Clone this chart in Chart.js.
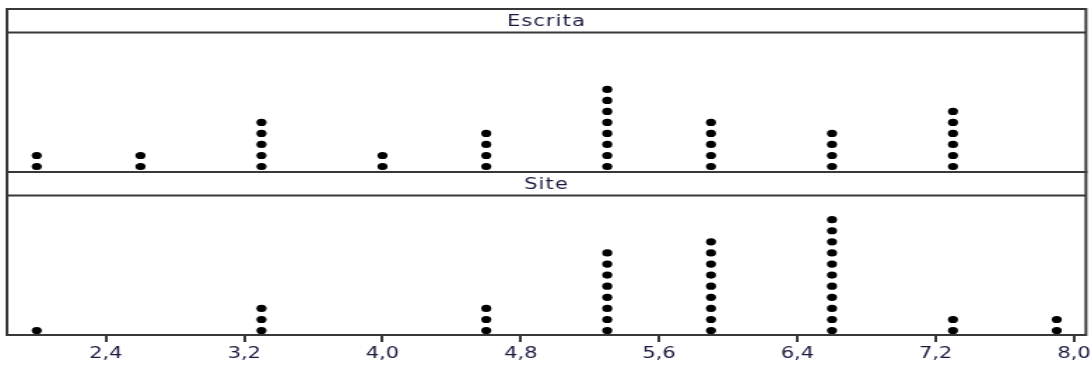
<!DOCTYPE html>
<html>
<head>
<meta charset="utf-8">
<script src="https://cdn.jsdelivr.net/npm/chart.js@4/dist/chart.umd.min.js"></script>
<style>
  html, body { margin: 0; padding: 0; background: #ffffff; overflow: hidden; }
  #wrap { width: 780px; height: 366px; transform: scaleX(1.3987); transform-origin: 0 0; }
  canvas { display: block; }
</style>
</head>
<body>
<div id="wrap"><canvas id="c" width="780" height="366"></canvas></div>
<script>
// ---- data ----
const panelNames = ["Escrita", "Site"];
const panelAxisIds = ["yE", "yS"];
const binValues = [2.0, 2.6, 3.3, 4.0, 4.6, 5.3, 5.9, 6.6, 7.3, 7.9];
const escritaCounts = [2, 2, 5, 2, 4, 8, 5, 4, 6, 0];
const siteCounts = [1, 0, 3, 0, 3, 8, 9, 11, 2, 2];
const tickValues = [2.4, 3.2, 4.0, 4.8, 5.6, 6.4, 7.2, 8.0];
const tickLabels = ["2,4", "3,2", "4,0", "4,8", "5,6", "6,4", "7,2", "8,0"];

function stackPoints(counts) {
  const pts = [];
  counts.forEach((n, i) => {
    for (let k = 1; k <= n; k++) pts.push({ x: binValues[i], y: k });
  });
  return pts;
}

const stripHeight = 23.5;
const frameColor = '#383838';
const textColor = '#1a1a40';

const panelFrames = {
  id: 'panelFrames',
  afterDatasetsDraw(chart) {
    const { ctx, chartArea } = chart;
    ctx.save();
    ctx.strokeStyle = frameColor;
    ctx.lineWidth = 2;
    panelNames.forEach((name, i) => {
      const s = chart.scales[panelAxisIds[i]];
      const top = s.top, bottom = s.bottom;
      ctx.strokeRect(chartArea.left, top, chartArea.right - chartArea.left, bottom - top);
      ctx.beginPath();
      ctx.moveTo(chartArea.left, top + stripHeight);
      ctx.lineTo(chartArea.right, top + stripHeight);
      ctx.stroke();
      ctx.fillStyle = textColor;
      ctx.font = '15px "DejaVu Sans"';
      ctx.textAlign = 'center';
      ctx.textBaseline = 'middle';
      try { ctx.letterSpacing = '0.8px'; } catch (e) {}
      ctx.fillText(name, (chartArea.left + chartArea.right) / 2, top + stripHeight / 2 + 1);
      try { ctx.letterSpacing = '0px'; } catch (e) {}
    });
    ctx.restore();
  }
};

new Chart(document.getElementById('c'), {
  type: 'scatter',
  data: {
    datasets: [
      { label: panelNames[0], data: stackPoints(escritaCounts), yAxisID: 'yE',
        pointRadius: 3.6, pointHoverRadius: 3.6, pointBackgroundColor: '#000', pointBorderWidth: 0 },
      { label: panelNames[1], data: stackPoints(siteCounts), yAxisID: 'yS',
        pointRadius: 3.6, pointHoverRadius: 3.6, pointBackgroundColor: '#000', pointBorderWidth: 0 }
    ]
  },
  options: {
    responsive: false,
    animation: false,
    events: [],
    layout: { padding: { left: 5, right: 3, top: 9, bottom: 0 } },
    plugins: { legend: { display: false }, tooltip: { enabled: false } },
    scales: {
      x: {
        type: 'linear',
        position: 'bottom',
        min: 1.828,
        max: 8.069,
        afterBuildTicks(axis) { axis.ticks = tickValues.map(v => ({ value: v })); },
        afterFit(axis) { axis.paddingLeft = 0; axis.paddingRight = 0; },
        ticks: {
          autoSkip: false,
          maxRotation: 0,
          padding: 3,
          color: textColor,
          font: { family: '"DejaVu Sans"', size: 15 },
          callback: (v, i) => tickLabels[i]
        },
        grid: { drawOnChartArea: false, drawTicks: true, tickLength: 7, color: frameColor, lineWidth: 2 },
        border: { display: false }
      },
      yE: {
        type: 'linear', position: 'right', stack: 'panels', stackWeight: 1,
        min: 0.5, max: 15.3, display: false
      },
      yS: {
        type: 'linear', position: 'right', stack: 'panels', stackWeight: 1,
        min: 0.6, max: 15.3, display: false
      }
    }
  },
  plugins: [panelFrames]
});
</script>
</body>
</html>
